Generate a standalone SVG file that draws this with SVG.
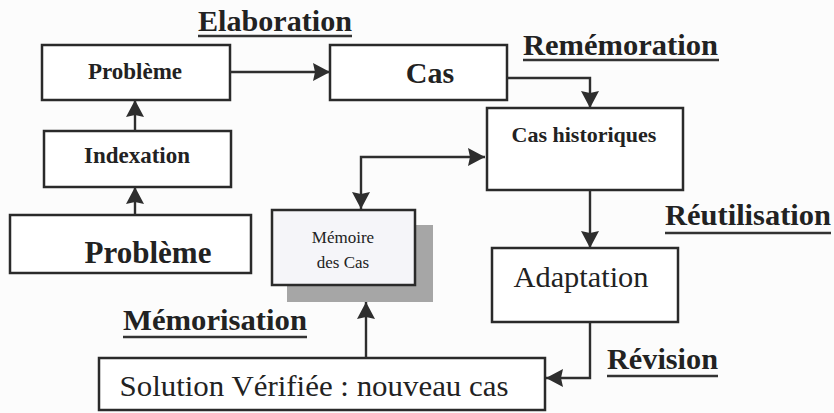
<svg xmlns="http://www.w3.org/2000/svg" width="834" height="413" viewBox="0 0 834 413">
<defs>
<marker id="ah" markerUnits="userSpaceOnUse" markerWidth="18" markerHeight="20" refX="17" refY="10" orient="auto-start-reverse" viewBox="0 0 18 20">
<path d="M0,1 L17,10 L0,19 L2,10 Z" fill="#2e2e2e"/>
</marker>
<style>
.box{fill:#fff;stroke:#2a2a2a;stroke-width:2.5}
.con{fill:none;stroke:#2e2e2e;stroke-width:2.4;marker-end:url(#ah)}
.ul{stroke:#333;stroke-width:2.5}
</style>
</defs>
<rect width="834" height="413" fill="#fcfcfc"/>

<g id="labels" font-family="'Liberation Serif', 'Times New Roman', serif" font-weight="bold" font-size="29" fill="#222">
<text x="198" y="31" textLength="154" lengthAdjust="spacingAndGlyphs">Elaboration</text>
<line class="ul" x1="198" y1="36" x2="352" y2="36"/>
<text x="523" y="55" textLength="195" lengthAdjust="spacingAndGlyphs">Remémoration</text>
<line class="ul" x1="523" y1="60" x2="719" y2="60"/>
<text x="665" y="225" textLength="166" lengthAdjust="spacingAndGlyphs">Réutilisation</text>
<line class="ul" x1="665" y1="233" x2="831" y2="233"/>
<text x="123" y="330" textLength="184" lengthAdjust="spacingAndGlyphs">Mémorisation</text>
<line class="ul" x1="123" y1="337" x2="307" y2="337"/>
<text x="607" y="369" textLength="111" lengthAdjust="spacingAndGlyphs">Révision</text>
<line class="ul" x1="607" y1="376" x2="718" y2="376"/>
</g>

<g font-family="'Liberation Serif', 'Times New Roman', serif" fill="#222" text-anchor="middle">
<g id="probleme1">
<rect class="box" x="42" y="45" width="188" height="55"/>
<text x="135" y="79" font-size="23" font-weight="bold">Problème</text>
</g>
<g id="indexation">
<rect class="box" x="44" y="131" width="187" height="56"/>
<text x="137" y="163" font-size="23" font-weight="bold">Indexation</text>
</g>
<g id="probleme2">
<rect class="box" x="10" y="215" width="241" height="58"/>
<text x="148" y="263" font-size="31" font-weight="bold">Problème</text>
</g>
<g id="cas">
<rect class="box" x="330" y="45" width="177" height="55"/>
<text x="430" y="83" font-size="30" font-weight="bold">Cas</text>
</g>
<g id="cas-historiques">
<rect class="box" x="487" y="108" width="196" height="82"/>
<text x="584" y="142" font-size="22" font-weight="bold">Cas historiques</text>
</g>
<g id="memoire">
<rect x="287" y="225" width="146" height="77" fill="#a6a6a6"/>
<rect x="272" y="210" width="143" height="75" fill="#f5f5f9" stroke="#2a2a2a" stroke-width="2.5"/>
<text x="343" y="243" font-size="17">Mémoire</text>
<text x="343" y="268" font-size="17">des Cas</text>
</g>
<g id="adaptation">
<rect class="box" x="492" y="248" width="186" height="74"/>
<text x="581" y="287" font-size="29" textLength="135" lengthAdjust="spacingAndGlyphs">Adaptation</text>
</g>
<g id="solution">
<rect class="box" x="99" y="358" width="446" height="52"/>
<text x="314" y="396" font-size="29" textLength="389" lengthAdjust="spacingAndGlyphs">Solution Vérifiée : nouveau cas</text>
</g>
</g>

<g id="connectors">
<path class="con" d="M135,131 V100"/>
<path class="con" d="M135,215 V187"/>
<path class="con" d="M230,72 H330"/>
<path class="con" d="M507,78 H590 V108"/>
<path class="con" d="M361,209 V157 H485" style="marker-start:url(#ah)"/>
<path class="con" d="M590,190 V248"/>
<path class="con" d="M590,322 V378 H546"/>
<path class="con" d="M366,358 V302"/>
</g>
</svg>
